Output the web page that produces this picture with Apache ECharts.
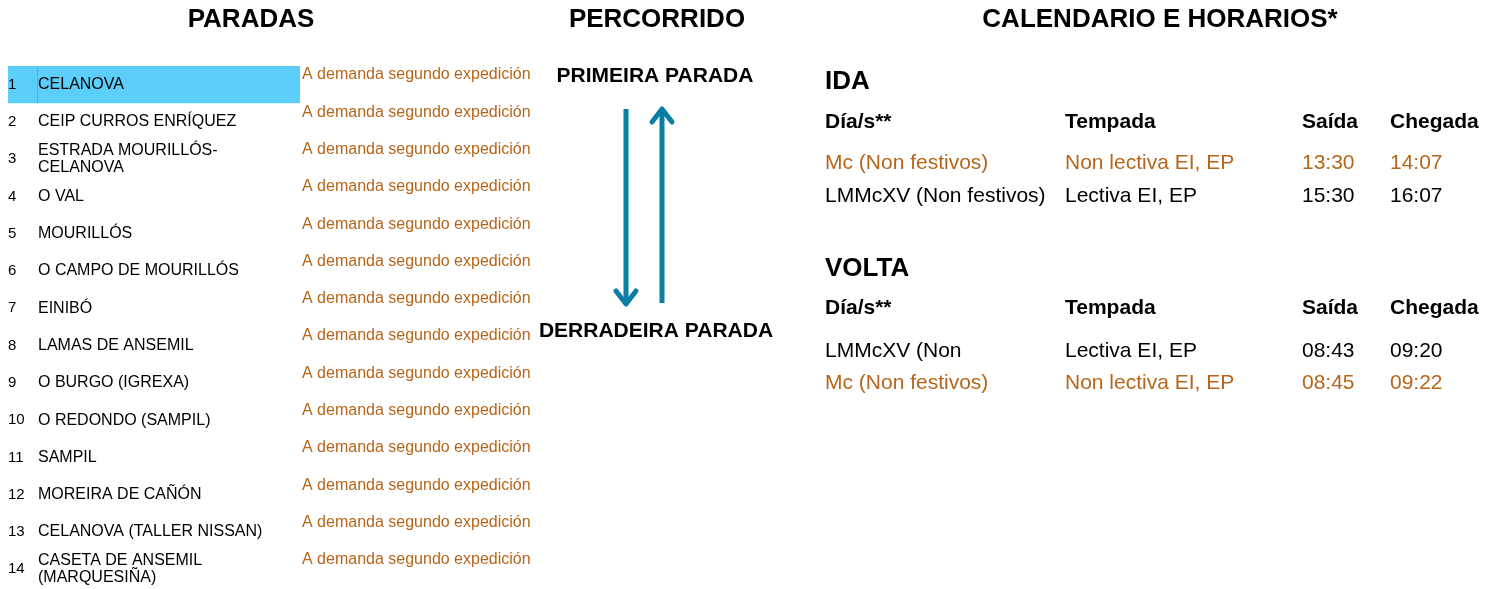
<!DOCTYPE html>
<html>
<head>
<meta charset="utf-8">
<script src="https://cdn.jsdelivr.net/npm/echarts@6/dist/echarts.min.js"></script>
<style>
html,body{margin:0;padding:0;background:#fff;}
#chart{width:1498px;height:589px;}
</style>
</head>
<body>
<div id="chart"></div>
<script>
// ---- data ----
const sectionTitles = ['PARADAS', 'PERCORRIDO', 'CALENDARIO E HORARIOS*'];
const stopNumbers = ['1','2','3','4','5','6','7','8','9','10','11','12','13','14'];
const stopNames = [
  'CELANOVA',
  'CEIP CURROS ENRÍQUEZ',
  'ESTRADA MOURILLÓS-\nCELANOVA',
  'O VAL',
  'MOURILLÓS',
  'O CAMPO DE MOURILLÓS',
  'EINIBÓ',
  'LAMAS DE ANSEMIL',
  'O BURGO (IGREXA)',
  'O REDONDO (SAMPIL)',
  'SAMPIL',
  'MOREIRA DE CAÑÓN',
  'CELANOVA (TALLER NISSAN)',
  'CASETA DE ANSEMIL\n(MARQUESIÑA)'
];
const stopNotes = [
  'A demanda segundo expedición','A demanda segundo expedición','A demanda segundo expedición',
  'A demanda segundo expedición','A demanda segundo expedición','A demanda segundo expedición',
  'A demanda segundo expedición','A demanda segundo expedición','A demanda segundo expedición',
  'A demanda segundo expedición','A demanda segundo expedición','A demanda segundo expedición',
  'A demanda segundo expedición','A demanda segundo expedición'
];
const highlightedStops = [true,false,false,false,false,false,false,false,false,false,false,false,false,false];
const routeLabels = ['PRIMEIRA PARADA', 'DERRADEIRA PARADA'];
const tableHeaders = ['Día/s**', 'Tempada', 'Saída', 'Chegada'];
const idaTitle = 'IDA';
const idaDays = ['Mc (Non festivos)', 'LMMcXV (Non festivos)'];
const idaSeasons = ['Non lectiva EI, EP', 'Lectiva EI, EP'];
const idaDepartures = ['13:30', '15:30'];
const idaArrivals = ['14:07', '16:07'];
const idaNonSchool = [true, false];
const voltaTitle = 'VOLTA';
const voltaDays = ['LMMcXV (Non', 'Mc (Non festivos)'];
const voltaSeasons = ['Lectiva EI, EP', 'Non lectiva EI, EP'];
const voltaDepartures = ['08:43', '08:45'];
const voltaArrivals = ['09:20', '09:22'];
const voltaNonSchool = [false, true];

// ---- styles ----
const FONT = '"Liberation Sans", Arial, sans-serif';
const ORANGE = '#B5661A';
const BLUE_ARROW = '#0B7EA5';
const HIGHLIGHT = '#5BCEFA';

const chart = echarts.init(document.getElementById('chart'), null, {renderer: 'canvas'});

function txt(x, y, text, size, bold, color, align) {
  return {
    type: 'text', silent: true,
    style: {
      x: x, y: y, text: text,
      font: (bold ? 'bold ' : '') + size + 'px ' + FONT,
      fill: color || '#000',
      align: align || 'left',
      verticalAlign: 'middle'
    }
  };
}

const graphics = [];
// section titles
const titleX = [251, 657, 1160];
sectionTitles.forEach((t, i) => graphics.push(txt(titleX[i], 20, t, 26, true, '#000', 'center')));
// route labels
graphics.push(txt(655, 76, routeLabels[0], 21, true, '#000', 'center'));
graphics.push(txt(656, 331, routeLabels[1], 21, true, '#000', 'center'));
// arrows
const arrowStyle = {stroke: BLUE_ARROW, lineWidth: 5, fill: null, lineCap: 'butt', lineJoin: 'round'};
graphics.push({type: 'polyline', silent: true, shape: {points: [[626, 109], [626, 303]]}, style: arrowStyle});
graphics.push({type: 'polyline', silent: true, shape: {points: [[616, 291], [626, 304], [636, 291]]},
  style: Object.assign({}, arrowStyle, {lineCap: 'round'})});
graphics.push({type: 'polyline', silent: true, shape: {points: [[662, 303], [662, 110]]}, style: arrowStyle});
graphics.push({type: 'polyline', silent: true, shape: {points: [[652, 122], [662, 109], [672, 122]]},
  style: Object.assign({}, arrowStyle, {lineCap: 'round'})});

// timetable
const colX = [825, 1065, 1302, 1390];
function table(title, titleY, headerY, rowYs, days, seasons, deps, arrs, flags) {
  graphics.push(txt(colX[0], titleY, title, 26, true, '#000'));
  tableHeaders.forEach((h, i) => graphics.push(txt(colX[i], headerY, h, 21, true, '#000')));
  days.forEach((d, r) => {
    const c = flags[r] ? ORANGE : '#000';
    const y = rowYs[r];
    graphics.push(txt(colX[0], y, d, 21, false, c));
    graphics.push(txt(colX[1], y, seasons[r], 21, false, c));
    graphics.push(txt(colX[2], y, deps[r], 21, false, c));
    graphics.push(txt(colX[3], y, arrs[r], 21, false, c));
  });
}
table(idaTitle, 82, 122, [163, 196], idaDays, idaSeasons, idaDepartures, idaArrivals, idaNonSchool);
table(voltaTitle, 269, 308, [351, 383], voltaDays, voltaSeasons, voltaDepartures, voltaArrivals, voltaNonSchool);

const option = {
  animation: false,
  backgroundColor: '#fff',
  grid: {left: 8, top: 66, width: 292, height: 522},
  xAxis: {type: 'value', min: 0, max: 1, show: false},
  yAxis: {type: 'category', data: stopNumbers, inverse: true, show: false},
  series: [{
    type: 'custom',
    silent: true,
    encode: {x: 0, y: 1},
    data: stopNumbers.map((n, i) => [0, i]),
    renderItem: function (params, api) {
      const i = api.value(1);
      const c = api.coord([0, i]);
      const band = api.size([0, 1])[1];
      const top = c[1] - band / 2;
      const left = params.coordSys.x;
      const w = params.coordSys.width;
      const children = [];
      if (highlightedStops[i]) {
        children.push({type: 'rect', shape: {x: left, y: top, width: w, height: band}, style: {fill: HIGHLIGHT}});
        children.push({type: 'rect', shape: {x: left + 29, y: top, width: 1, height: band}, style: {fill: '#3FB4E6'}});
      }
      children.push({type: 'text', style: {x: left, y: c[1], text: stopNumbers[i],
        font: '15px ' + FONT, fill: '#000', align: 'left', verticalAlign: 'middle'}});
      children.push({type: 'text', style: {x: left + 30, y: c[1], text: stopNames[i], lineHeight: 17,
        font: '16px ' + FONT, fill: '#000', align: 'left', verticalAlign: 'middle'}});
      children.push({type: 'text', style: {x: left + w + 2, y: top + 9, text: stopNotes[i],
        font: '16px ' + FONT, fill: ORANGE, align: 'left', verticalAlign: 'middle'}});
      return {type: 'group', children: children};
    }
  }],
  graphic: graphics
};
chart.setOption(option);
</script>
</body>
</html>
